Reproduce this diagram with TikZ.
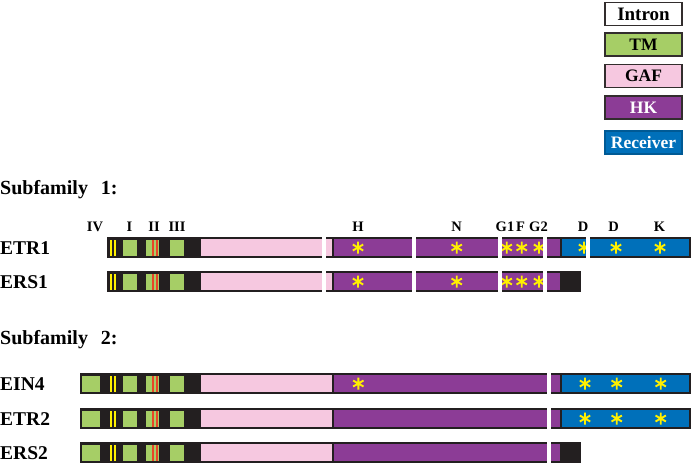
\documentclass[tikz,border=0pt]{standalone}
\usepackage{fontspec}
\setmainfont{Liberation Serif}
\definecolor{tmgreen}{RGB}{166,206,102}
\definecolor{gafpink}{RGB}{246,200,224}
\definecolor{hkpurple}{RGB}{140,60,150}
\definecolor{recblue}{RGB}{0,112,186}
\definecolor{barblack}{RGB}{35,31,32}
\definecolor{astyellow}{RGB}{255,240,0}
\definecolor{linered}{RGB}{232,70,40}
\definecolor{edgegray}{RGB}{50,45,45}
\tikzset{
  rowlabel/.style={anchor=west,inner sep=0pt,font=\fontsize{19.5}{20}\selectfont\bfseries},
  headlabel/.style={anchor=west,inner sep=0pt,font=\fontsize{20}{21}\selectfont\bfseries},
  toplabel/.style={inner sep=0pt,font=\fontsize{14.5}{15}\selectfont\bfseries},
  legbox/.style={minimum width=77pt,minimum height=23pt,inner sep=0pt,line width=1.2pt,font=\fontsize{17.5}{18}\selectfont\bfseries},
  yast/.pic={\draw[astyellow,line width=1.9pt] (0,-6)--(0,6) (-5.2,-3)--(5.2,3) (-5.2,3)--(5.2,-3);},
}
\newcommand\gapcut[2]{\fill[white] (#1-2,#2-3) rectangle (#1+2,#2+24);}
\newcommand\coreleft[2]{% #1 top, #2 bar left
  \fill[tmgreen] (122.7,#1+2.5) rectangle (136.7,#1+18.5);
  \fill[tmgreen] (145.7,#1+2.5) rectangle (159,#1+18.5);
  \fill[tmgreen] (170,#1+2.5) rectangle (184,#1+18.5);
  \fill[astyellow] (110,#1+2.5) rectangle (112,#1+18.5);
  \fill[astyellow] (113.8,#1+2.5) rectangle (115.8,#1+18.5);
  \fill[linered] (151.8,#1+2.5) rectangle (153.8,#1+18.5);
  \fill[linered] (155.8,#1+2.5) rectangle (157.8,#1+18.5);
  \fill[gafpink] (201,#1+2) rectangle (332,#1+19);
}
\begin{document}
\begin{tikzpicture}[x=1pt,y=-1pt]
\useasboundingbox (0,0) rectangle (692,464);
\fill[white] (0,0) rectangle (692,464);

% legend
\node[legbox,draw=edgegray,fill=white,font=\fontsize{19}{20}\selectfont\bfseries] (lintron) at (643.5,14) {Intron};
\node[legbox,draw=edgegray,fill=tmgreen] (ltm) at (643.5,44.5) {TM};
\node[legbox,draw=edgegray,fill=gafpink] (lgaf) at (643.5,76) {GAF};
\node[legbox,draw=edgegray,fill=hkpurple,text=white] (lhk) at (643.5,107.5) {HK};
\node[legbox,draw=recblue!80!black,fill=recblue,text=white] (lrec) at (643.5,142.5) {Receiver};

% headings
\node[headlabel] (sf1) at (0,190) {Subfamily\hspace{0.65em}1:};
\node[headlabel] (sf2) at (0,340) {Subfamily\hspace{0.65em}2:};

% top labels
\node[toplabel] (tIV) at (95,227) {IV};
\node[toplabel] (tI) at (129.5,227) {I};
\node[toplabel] (tII) at (154,227) {II};
\node[toplabel] (tIII) at (177,227) {III};
\node[toplabel] (tH) at (358,227) {H};
\node[toplabel] (tN) at (456.5,227) {N};
\node[toplabel] (tG1) at (505,227) {G1};
\node[toplabel] (tF) at (520.5,227) {F};
\node[toplabel] (tG2) at (538.5,227) {G2};
\node[toplabel] (tD1) at (583,227) {D};
\node[toplabel] (tD2) at (613.5,227) {D};
\node[toplabel] (tK) at (659.5,227) {K};

% row labels
\node[rowlabel] (etr1) at (0,248) {ETR1};
\node[rowlabel] (ers1) at (0,282) {ERS1};
\node[rowlabel] (ein4) at (0,384) {EIN4};
\node[rowlabel] (etr2) at (0,419) {ETR2};
\node[rowlabel] (ers2) at (0,453) {ERS2};

% ---- ETR1 (top 237)
\fill[barblack] (107,237) rectangle (691,258);
\coreleft{237}{107}
\fill[hkpurple] (334,239) rectangle (560,256);
\fill[recblue] (562,239) rectangle (689,256);
\foreach \x in {358,456.7,506.7,521.7,539,584,616,660} {\pic at (\x,247.5) {yast};}
\foreach \x in {324,414,500.4,545,587.9} {\gapcut{\x}{237}}

% ---- ERS1 (top 271)
\fill[barblack] (107,271) rectangle (581,292);
\coreleft{271}{107}
\fill[hkpurple] (334,273) rectangle (560,290);
\foreach \x in {358,456.7,506.7,521.7,539} {\pic at (\x,281.5) {yast};}
\foreach \x in {324,414,500.4,545} {\gapcut{\x}{271}}

% ---- EIN4 (top 373)
\fill[barblack] (80,373) rectangle (691,394);
\coreleft{373}{80}
\fill[tmgreen] (82.3,375.5) rectangle (100,391.5);
\fill[hkpurple] (334,375) rectangle (560,392);
\fill[recblue] (562,375) rectangle (689,392);
\foreach \x in {358.3,585,616.7,660.7} {\pic at (\x,383.5) {yast};}
\gapcut{548.7}{373}

% ---- ETR2 (top 408)
\fill[barblack] (80,408) rectangle (691,429);
\coreleft{408}{80}
\fill[tmgreen] (82.3,410.5) rectangle (100,426.5);
\fill[hkpurple] (334,410) rectangle (560,427);
\fill[recblue] (562,410) rectangle (689,427);
\foreach \x in {585,616.7,660.7} {\pic at (\x,418.5) {yast};}
\gapcut{548.7}{408}

% ---- ERS2 (top 442)
\fill[barblack] (80,442) rectangle (581,463);
\coreleft{442}{80}
\fill[tmgreen] (82.3,444.5) rectangle (100,460.5);
\fill[hkpurple] (334,444) rectangle (560,461);
\gapcut{548.7}{442}
\end{tikzpicture}
\end{document}
